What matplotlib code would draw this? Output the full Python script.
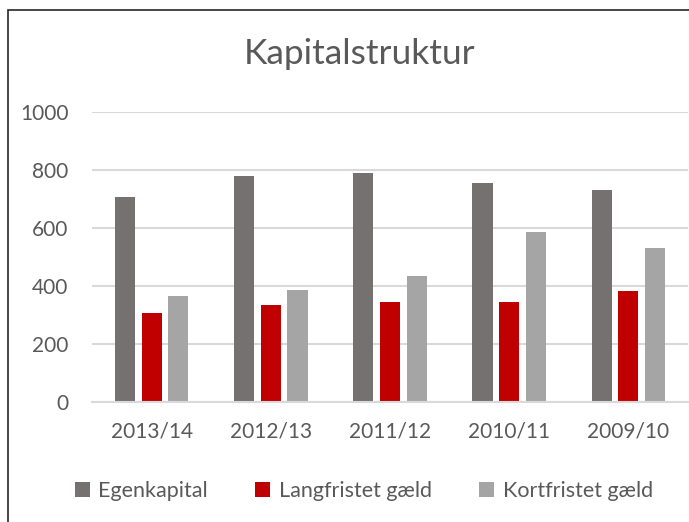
import numpy as np
import matplotlib.pyplot as plt
from matplotlib.patches import Rectangle

# data
years = ["2013/14", "2012/13", "2011/12", "2010/11", "2009/10"]
egenkapital = [707, 779, 790, 754, 731]
langfristet = [307, 333, 346, 344, 382]
kortfristet = [365, 385, 436, 586, 530]

series = [("Egenkapital", egenkapital, "#767171"),
          ("Langfristet gæld", langfristet, "#C00000"),
          ("Kortfristet gæld", kortfristet, "#A5A5A5")]

plt.rcParams['font.family'] = ['Lato', 'DejaVu Sans']
txt = "#595959"

fig = plt.figure(figsize=(6.89, 5.22), dpi=100)
ax = fig.add_axes([92 / 689, 1 - 402 / 522, 596 / 689, 290 / 522])

x = np.arange(len(years))
step = 0.224
width = 0.168
for i, (name, vals, col) in enumerate(series):
    ax.bar(x + (i - 1) * step, vals, width, color=col, label=name, zorder=3)

ax.set_xlim(-0.5, len(years) - 0.5)
ax.set_ylim(0, 1000)
ax.set_yticks(range(0, 1001, 200))
ax.set_xticks(x)
ax.set_xticklabels(years)
ax.grid(axis="y", color="#D9D9D9", linewidth=1.5, zorder=0)
for s in ["top", "right", "left"]:
    ax.spines[s].set_visible(False)
ax.spines["bottom"].set_color("#D9D9D9")
ax.spines["bottom"].set_linewidth(1.5)
ax.spines["bottom"].set_zorder(4)
ax.tick_params(axis="both", length=0, labelsize=15, colors=txt)
ax.tick_params(axis="x", pad=14)
ax.tick_params(axis="y", pad=17)

fig.text(0.522, 1 - 54 / 522, "Kapitalstruktur", ha="center", va="center",
         fontsize=25.5, color=txt)

fig.legend(loc="center", bbox_to_anchor=(0.528, 1 - 491 / 522), ncol=3,
           frameon=False, fontsize=15.5, labelcolor=txt, handlelength=0.7,
           handleheight=0.7, handletextpad=0.4, columnspacing=2.2)

# outer chart frame (cropped at right and bottom)
fig.patches.append(Rectangle((7.5 / 689, -0.1), 1.2, 1 - 10 / 522 + 0.1,
                             transform=fig.transFigure, fill=False,
                             edgecolor="#262626", linewidth=1.2))

fig.savefig("out.png", dpi=100)
